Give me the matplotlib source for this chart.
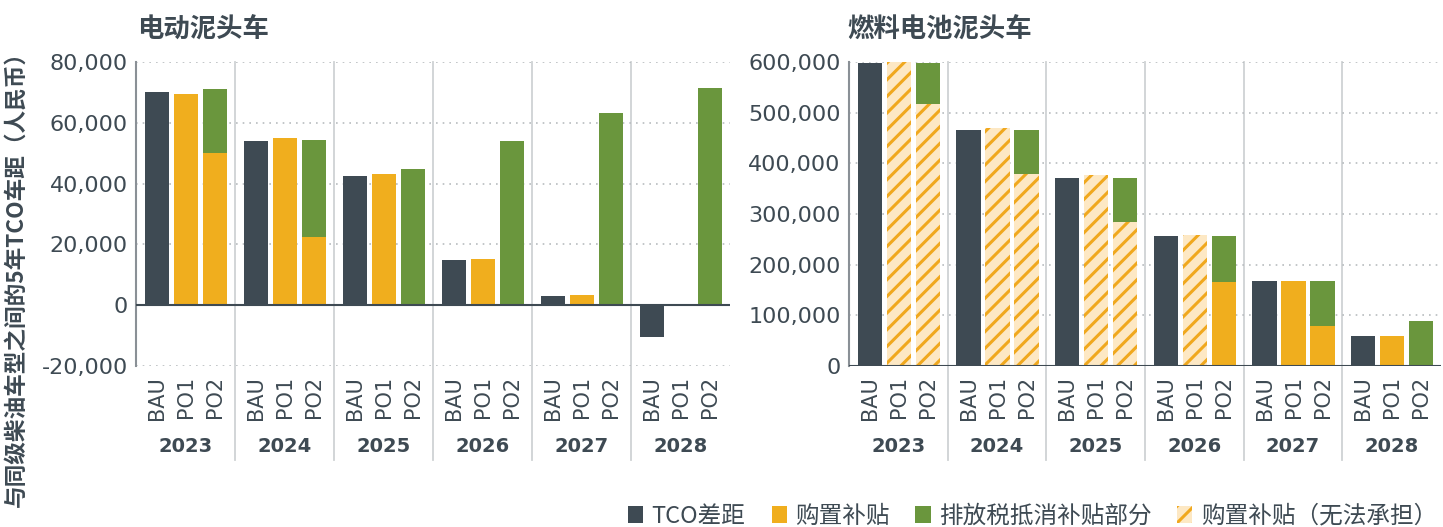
import numpy as np
import matplotlib.pyplot as plt
from matplotlib.patches import Patch
from matplotlib.transforms import blended_transform_factory

# Data
years = ['2023', '2024', '2025', '2026', '2027', '2028']
scenarios = ['BAU', 'PO1', 'PO2']

ev_bau = [70000, 54000, 42400, 14900, 2900, -10300]
ev_po1 = [69500, 55000, 43000, 15200, 3200, 0]
ev_po2_subsidy = [50000, 22300, 0, 0, 0, 0]
ev_po2_tax = [21000, 32100, 44700, 54100, 63200, 71500]

fc_bau = [598000, 465000, 372000, 256000, 167000, 59000]
fc_po1 = [600000, 470000, 376000, 258000, 167000, 59000]
fc_po1_unaffordable = [True, True, True, True, False, False]
fc_po2_subsidy = [517000, 378000, 284000, 166000, 79000, 0]
fc_po2_tax = [81000, 88000, 87000, 90000, 88000, 88500]
fc_po2_unaffordable = [True, True, True, False, False, False]

DARK = '#3e4a53'
YELLOW = '#f0ae1e'
GREEN = '#6a963d'
HATCH_FACE = '#fde8c4'
HATCH_LINE = '#f0a81e'
TEXT = '#3e4a53'
SEP = '#cfd2d4'

plt.rcParams['font.family'] = ['DejaVu Sans', 'Noto Sans CJK SC']
plt.rcParams['hatch.linewidth'] = 2.2
CJK = ['Noto Sans CJK SC', 'DejaVu Sans']

GROUP_W = 3.4
OFFSET = 0.72
BAR_W = 0.84


def positions(i):
    return np.arange(len(years)) * GROUP_W + OFFSET + i


def draw_bar(ax, x, bottom, height, color, hatched=False):
    if height == 0:
        return
    if hatched:
        ax.bar(x, height, BAR_W, bottom=bottom, color=HATCH_FACE,
               edgecolor=HATCH_LINE, hatch='//', linewidth=0)
    else:
        ax.bar(x, height, BAR_W, bottom=bottom, color=color, linewidth=0)


def style_axis(ax, ticks):
    ax.set_xlim(0, GROUP_W * len(years))
    ax.set_yticks(ticks)
    ax.set_yticklabels([f'{t:,}' for t in ticks], fontsize=16, color=TEXT)
    ax.tick_params(axis='y', length=0, pad=6)
    ax.grid(axis='y', linestyle=(0, (1, 3)), color='#b8bcbf', linewidth=1.2)
    ax.set_axisbelow(True)
    for s in ['top', 'right', 'bottom']:
        ax.spines[s].set_visible(False)
    ax.spines['left'].set_color('#8a9096')
    ax.spines['left'].set_linewidth(1.5)
    xt = np.concatenate([positions(i) for i in range(3)])
    xl = [scenarios[i] for i in range(3) for _ in years]
    ax.set_xticks(xt)
    ax.set_xticklabels(xl, rotation=90, fontsize=15, color=TEXT)
    ax.tick_params(axis='x', length=0, pad=7)
    trans = blended_transform_factory(ax.transData, ax.transAxes)
    for g in range(1, len(years)):
        ax.plot([g * GROUP_W] * 2, [-0.31, 1], transform=trans, color=SEP,
                linewidth=1.3, clip_on=False, zorder=0)
    for g, y in enumerate(years):
        ax.text(g * GROUP_W + GROUP_W / 2, -0.265, y, transform=trans,
                ha='center', va='center', fontsize=14, fontweight='bold',
                color=TEXT)


fig = plt.figure(figsize=(14.43, 5.27), dpi=100)
ax1 = fig.add_axes([136 / 1443, 1 - 366 / 527, 594 / 1443, 304 / 527])
ax2 = fig.add_axes([849 / 1443, 1 - 366 / 527, 592 / 1443, 304 / 527])

# Left: electric trucks
for g in range(len(years)):
    draw_bar(ax1, positions(0)[g], 0, ev_bau[g], DARK)
    draw_bar(ax1, positions(1)[g], 0, ev_po1[g], YELLOW)
    draw_bar(ax1, positions(2)[g], 0, ev_po2_subsidy[g], YELLOW)
    draw_bar(ax1, positions(2)[g], ev_po2_subsidy[g], ev_po2_tax[g], GREEN)
ax1.set_ylim(-20000, 80000)
style_axis(ax1, [-20000, 0, 20000, 40000, 60000, 80000])
ax1.axhline(0, color=DARK, linewidth=1.5, zorder=3)

# Right: fuel cell trucks
for g in range(len(years)):
    draw_bar(ax2, positions(0)[g], 0, fc_bau[g], DARK)
    draw_bar(ax2, positions(1)[g], 0, fc_po1[g], YELLOW, fc_po1_unaffordable[g])
    draw_bar(ax2, positions(2)[g], 0, fc_po2_subsidy[g], YELLOW,
             fc_po2_unaffordable[g])
    draw_bar(ax2, positions(2)[g], fc_po2_subsidy[g], fc_po2_tax[g], GREEN)
ax2.set_ylim(0, 600000)
style_axis(ax2, [0, 100000, 200000, 300000, 400000, 500000, 600000])
ax2.axhline(0, color=DARK, linewidth=1.5, zorder=3)

fig.text(137 / 1443, 1 - 30 / 527, '电动泥头车', family=CJK, fontsize=19,
         fontweight='bold', color=TEXT, va='center', ha='left')
fig.text(847 / 1443, 1 - 30 / 527, '燃料电池泥头车', family=CJK, fontsize=19,
         fontweight='bold', color=TEXT, va='center', ha='left')
fig.text(5 / 1443, 1 - 40 / 527, '与同级柴油车型之间的5年TCO车距（人民币）',
         family=CJK, fontsize=16.3, fontweight='bold', color=TEXT,
         rotation=90, ha='left', va='top')

handles = [
    Patch(facecolor=DARK, linewidth=0),
    Patch(facecolor=YELLOW, linewidth=0),
    Patch(facecolor=GREEN, linewidth=0),
    Patch(facecolor=HATCH_FACE, edgecolor=HATCH_LINE, hatch='//', linewidth=0),
]
labels = ['TCO差距', '购置补贴', '排放税抵消补贴部分', '购置补贴（无法承担）']
fig.legend(handles, labels, loc='center right',
           bbox_to_anchor=(1437 / 1443, 1 - 516 / 527),
           ncol=4, frameon=False, prop={'family': CJK, 'size': 17},
           labelcolor=TEXT, handlelength=0.64, handleheight=0.7,
           handletextpad=0.35, columnspacing=1.1, borderpad=0,
           borderaxespad=0)

fig.savefig('out.png', dpi=100)
